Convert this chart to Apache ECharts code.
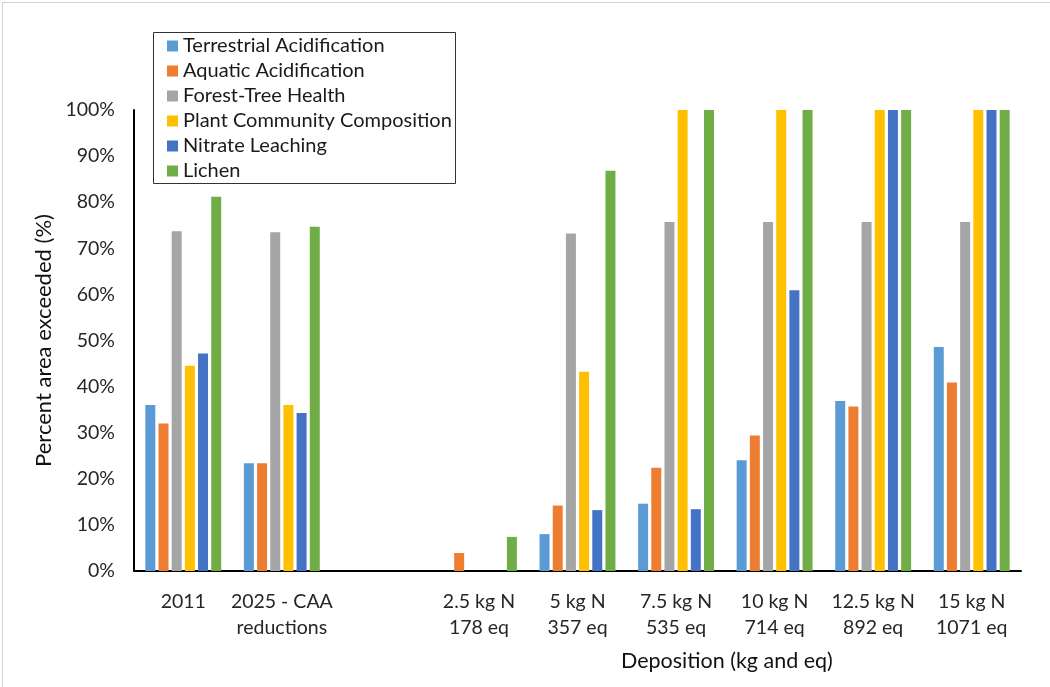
<!DOCTYPE html>
<html>
<head>
<meta charset="utf-8">
<script src="https://cdn.jsdelivr.net/npm/echarts@6/dist/echarts.min.js"></script>
<style>html,body{margin:0;padding:0;background:#fff;}#c{width:1050px;height:687px;}</style>
</head>
<body>
<div id="c"></div>
<script>
const categories = ['2011', '2025 - CAA\nreductions', '', '2.5 kg N\n178 eq', '5 kg N\n357 eq', '7.5 kg N\n535 eq', '10 kg N\n714 eq', '12.5 kg N\n892 eq', '15 kg N\n1071 eq'];
const seriesNames = ['Terrestrial Acidification', 'Aquatic Acidification', 'Forest-Tree Health', 'Plant Community Composition', 'Nitrate Leaching', 'Lichen'];
const terrestrial = [36.0, 23.4, null, 0, 8.0, 14.6, 24.0, 36.9, 48.6];
const aquatic = [32.0, 23.4, null, 3.9, 14.2, 22.4, 29.4, 35.7, 40.9];
const forest = [73.7, 73.5, null, 0, 73.2, 75.7, 75.7, 75.7, 75.7];
const plant = [44.5, 36.0, null, 0, 43.2, 100, 100, 100, 100];
const nitrate = [47.2, 34.3, null, 0, 13.2, 13.4, 60.9, 100, 100];
const lichen = [81.2, 74.7, null, 7.4, 86.8, 100, 100, 100, 100];
const yTicks = [0, 10, 20, 30, 40, 50, 60, 70, 80, 90, 100];
const colors = ['#5B9BD5', '#ED7D31', '#A5A5A5', '#FFC000', '#4472C4', '#70AD47'];
const allData = [terrestrial, aquatic, forest, plant, nitrate, lichen];

const FONT = 'Lato';
const chart = echarts.init(document.getElementById('c'), null, {renderer: 'canvas'});
chart.setOption({
  animation: false,
  backgroundColor: '#fff',
  textStyle: {fontFamily: FONT},
  grid: {left: 134, right: 29, top: 110, bottom: 116, containLabel: false},
  legend: {
    orient: 'vertical', left: 153, top: 32,
    padding: [4, 10, 4, 14],
    itemWidth: 11, itemHeight: 11, itemGap: 5,
    icon: 'rect',
    textStyle: {fontFamily: FONT, fontSize: 20, color: '#1a1a1a'},
    data: seriesNames
  },
  xAxis: {
    type: 'category', data: categories,
    axisLine: {lineStyle: {color: '#000', width: 2}},
    axisTick: {show: false},
    axisLabel: {fontFamily: FONT, fontSize: 19.5, color: '#262626', margin: 18, lineHeight: 26, interval: 0}
  },
  yAxis: {
    type: 'value', min: yTicks[0], max: yTicks[yTicks.length - 1], interval: 10,
    axisLine: {show: true, lineStyle: {color: '#000', width: 2}},
    axisTick: {show: false},
    splitLine: {show: false},
    axisLabel: {fontFamily: FONT, fontSize: 19.5, color: '#262626', margin: 19, formatter: '{value}%'},
    name: 'Percent area exceeded (%)', nameLocation: 'middle', nameGap: 78, nameRotate: 90,
    nameTextStyle: {fontFamily: FONT, fontSize: 22, color: '#111'}
  },
  graphic: [
    {type: 'rect', left: 0, top: 0, shape: {x: 0.5, y: 0.5, width: 1049, height: 686}, style: {fill: 'none', stroke: '#d0d0d0', lineWidth: 1}, silent: true},
    {type: 'rect', shape: {x: 153.5, y: 32.5, width: 302, height: 151}, style: {fill: 'none', stroke: '#333', lineWidth: 1}, silent: true, z: 10},
    {type: 'text', left: 621, top: 650, style: {text: 'Deposition (kg and eq)', font: '21.5px ' + FONT, fill: '#111'}}
  ],
  series: seriesNames.map((n, i) => ({
    name: n, type: 'bar', data: allData[i],
    barGap: '32%', barCategoryGap: '23%',
    itemStyle: {color: colors[i]}
  }))
});
</script>
</body>
</html>
